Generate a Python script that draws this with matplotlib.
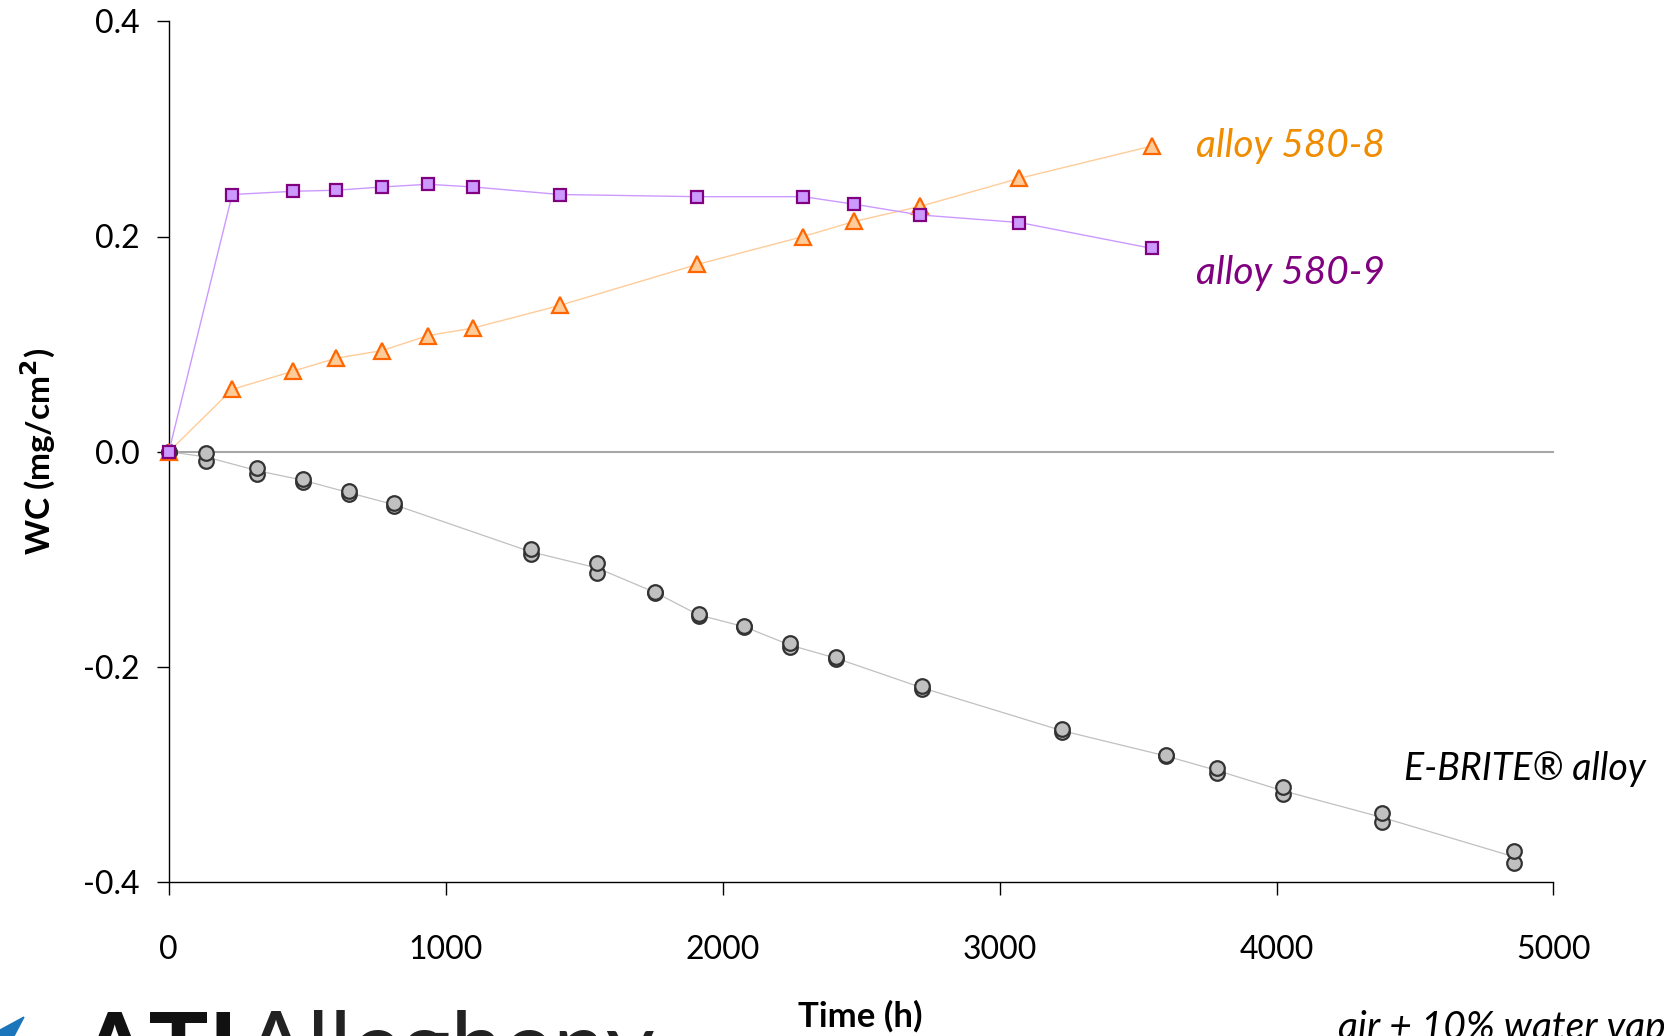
"""
plot.py

Weight change of three alloys in air + 10% water vapour, redrawn with Matplotlib.
Saves the chart as out.png.
"""

#####################################
# Import Modules
#####################################

import matplotlib
matplotlib.use("Agg")
import matplotlib.pyplot as plt
from matplotlib.patches import Polygon

#####################################
# Data
#####################################

# alloy 580-8 and 580-9 were weighed at the same times
time_580 = [0, 229, 450, 605, 770, 936, 1100, 1412, 1907, 2291, 2475, 2713, 3071, 3549]
wc_580_8 = [0.0, 0.058, 0.075, 0.087, 0.094, 0.108, 0.115, 0.136, 0.174, 0.200,
            0.214, 0.228, 0.254, 0.284]
wc_580_9 = [0.0, 0.239, 0.242, 0.243, 0.246, 0.2485, 0.246, 0.239, 0.237, 0.237,
            0.230, 0.220, 0.213, 0.189]

# E-BRITE alloy, two coupons per time
time_ebrite = [0, 134, 319, 483, 650, 814, 1307, 1547, 1757, 1913, 2078, 2244,
               2409, 2721, 3225, 3600, 3785, 4022, 4380, 4858]
wc_ebrite_a = [0.0, -0.001, -0.0147, -0.0249, -0.0364, -0.048, -0.0906, -0.103,
               -0.130, -0.1503, -0.162, -0.178, -0.1906, -0.218, -0.2578, -0.282,
               -0.2934, -0.3114, -0.3352, -0.3708]
wc_ebrite_b = [0.0, -0.0085, -0.0203, -0.0277, -0.0395, -0.0503, -0.0952, -0.1129,
               -0.1315, -0.1528, -0.163, -0.1813, -0.1928, -0.2206, -0.2603, -0.283,
               -0.2987, -0.3182, -0.3439, -0.3817]

x_ticks = [0, 1000, 2000, 3000, 4000, 5000]
y_ticks = [-0.4, -0.2, 0.0, 0.2, 0.4]
y_tick_labels = ["-0.4", "-0.2", "0.0", "0.2", "0.4"]

#####################################
# Figure setup
#####################################

plt.rcParams["font.family"] = ["Lato", "DejaVu Sans"]
plt.rcParams["axes.unicode_minus"] = False

W, H = 1665, 1036
fig = plt.figure(figsize=(W / 100, H / 100), dpi=100)
ax = fig.add_axes([168.8 / W, 1 - 882.4 / H, (1553.5 - 168.8) / W, (882.4 - 21.2) / H])

# zero line
ax.axhline(0, color="#a6a6a6", lw=1.5, zorder=1)

# E-BRITE: line through the mean, markers for each coupon
ebrite_mean = [(a + b) / 2 for a, b in zip(wc_ebrite_a, wc_ebrite_b)]
ax.plot(time_ebrite, ebrite_mean, color="#c0c0c0", lw=0.9, zorder=2)
for series in (wc_ebrite_b, wc_ebrite_a):
    ax.plot(time_ebrite, series, ls="none", marker="o", ms=10.5,
            mfc="#c0c0c0", mec="#333333", mew=1.6, zorder=3)

# alloy 580-8 (triangles)
ax.plot(time_580, wc_580_8, color="#ffcc99", lw=1.0, marker="^", ms=11,
        mfc="#ffcc99", mec="#ff6600", mew=1.6, zorder=4)

# alloy 580-9 (squares)
ax.plot(time_580, wc_580_9, color="#cc99ff", lw=1.0, marker="s", ms=9,
        mfc="#cc99ff", mec="#800080", mew=1.6, zorder=5)

#####################################
# Axes styling
#####################################

ax.set_xlim(0, 5000)
ax.set_ylim(-0.4, 0.4)
ax.set_xticks(x_ticks)
ax.set_yticks(y_ticks)
ax.set_yticklabels(y_tick_labels)
ax.tick_params(axis="both", direction="out", length=9, width=1.0,
               labelsize=23, color="black")
ax.tick_params(axis="x", pad=29)
ax.tick_params(axis="y", pad=12)

for side in ("top", "right"):
    ax.spines[side].set_visible(False)
for side in ("left", "bottom"):
    ax.spines[side].set_linewidth(1.0)
for line in ax.lines:
    line.set_clip_on(False)

ax.set_ylabel("WC (mg/cm$^\\mathbf{2}$)", fontsize=24, fontweight="bold", labelpad=18)
fig.text(860 / W, 1 - 1016 / H, "Time (h)", fontsize=25, fontweight="bold",
         ha="center", va="center")

#####################################
# Series labels and notes
#####################################

fig.text(1196 / W, 1 - 146 / H, "alloy 580-8", fontsize=28, style="italic",
         color="#f08c00", va="center")
fig.text(1196 / W, 1 - 273 / H, "alloy 580-9", fontsize=28, style="italic",
         color="#800080", va="center")
fig.text(1404 / W, 1 - 769 / H, "E-BRITE\u00ae alloy", fontsize=27,
         style="italic", color="black", va="center")
fig.text(1338 / W, 1 - 1010 / H, "air + 10% water vapor", fontsize=28,
         style="italic", color="black", va="top")

# company logo, cut by the bottom edge
fig.text(80 / W, 1 - 1010 / H, "ATI", fontsize=72, fontweight="bold",
         color="#111111", va="top")
fig.text(244 / W, 1 - 1010 / H, "Allegheny", fontsize=68, color="#222222", va="top")
fig.patches.append(Polygon([(0, 6 / H), (24 / W, 19 / H), (14 / W, 0), (0, 0)],
                           closed=True, transform=fig.transFigure,
                           color="#1b75bb", zorder=10))

fig.savefig("out.png", dpi=100)
